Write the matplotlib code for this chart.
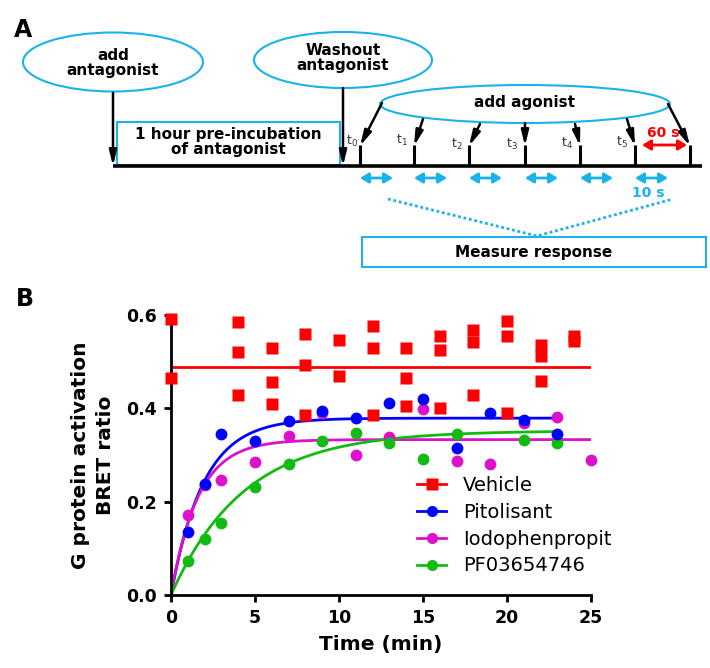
import numpy as np
import matplotlib
matplotlib.use("Agg")
import matplotlib.pyplot as plt
from matplotlib.patches import Ellipse, Rectangle
from matplotlib.lines import Line2D

# ---- panel B data ----
veh_t = [0, 0, 4, 4, 4, 6, 6, 6, 8, 8, 8, 10, 10, 12, 12, 12, 14, 14, 14,
         16, 16, 16, 18, 18, 18, 20, 20, 20, 22, 22, 22, 24, 24]
veh_y = [0.591, 0.466, 0.586, 0.520, 0.429, 0.530, 0.457, 0.409, 0.559, 0.493, 0.385,
         0.547, 0.470, 0.577, 0.530, 0.385, 0.530, 0.464, 0.405, 0.556, 0.525, 0.400,
         0.568, 0.542, 0.429, 0.588, 0.556, 0.389, 0.535, 0.512, 0.458, 0.556, 0.545]

pit_t = [1, 2, 3, 5, 7, 9, 11, 13, 15, 17, 19, 21, 23]
pit_y = [0.134, 0.237, 0.346, 0.331, 0.373, 0.394, 0.379, 0.412, 0.421, 0.314, 0.389, 0.375, 0.344]

iod_t = [1, 2, 3, 5, 7, 9, 11, 13, 15, 17, 19, 21, 23, 25]
iod_y = [0.172, 0.235, 0.247, 0.285, 0.341, 0.391, 0.300, 0.338, 0.399, 0.288, 0.280, 0.368, 0.381, 0.290]

pf_t = [1, 2, 3, 5, 7, 9, 11, 13, 15, 17, 21, 23]
pf_y = [0.072, 0.120, 0.154, 0.232, 0.281, 0.329, 0.348, 0.326, 0.292, 0.346, 0.333, 0.325]

# fitted curves (one-phase association), parameters
veh_mean = 0.488
pit_fit = (0.379, 0.52, 23)   # plateau, k, last time
iod_fit = (0.333, 0.62, 25)
pf_fit = (0.352, 0.23, 23)

labels = ["Vehicle", "Pitolisant", "Iodophenpropit", "PF03654746"]
colors = ["#ff0000", "#0000ff", "#dd11cc", "#11bb11"]
markers = ["s", "o", "o", "o"]

CYAN = "#1ab2ea"

fig = plt.figure(figsize=(7.1, 6.68), dpi=100)

# ---- panel A: schematic, drawn in pixel coordinates ----
axA = fig.add_axes([0, 0, 1, 1])
axA.set_xlim(0, 710)
axA.set_ylim(668, 0)
axA.axis("off")

bold = dict(fontweight="bold", fontsize=11, ha="center", va="center", color="black")

axA.text(23, 30, "A", fontsize=17, fontweight="bold", ha="center", va="center")
axA.text(25, 299, "B", fontsize=17, fontweight="bold", ha="center", va="center")

# ellipses with text
axA.add_patch(Ellipse((113, 62), 180, 59, fill=False, ec=CYAN, lw=1.5))
axA.text(113, 63, "add\nantagonist", linespacing=0.95, **bold)
axA.add_patch(Ellipse((343, 60), 178, 56, fill=False, ec=CYAN, lw=1.5))
axA.text(343, 58, "Washout\nantagonist", linespacing=0.95, **bold)
axA.add_patch(Ellipse((525, 104), 290, 38, fill=False, ec=CYAN, lw=1.5))
axA.text(525, 102, "add agonist", **bold)

# pre-incubation box
axA.add_patch(Rectangle((117, 122), 223, 43, fill=False, ec=CYAN, lw=1.5))
axA.text(228, 142, "1 hour pre-incubation\nof antagonist", linespacing=0.95, **bold)

# measure box
axA.add_patch(Rectangle((362, 237), 344, 30, fill=False, ec=CYAN, lw=1.5))
axA.text(534, 252, "Measure response", **bold)

# timeline
axA.plot([113, 702], [166, 166], color="black", lw=2.6, solid_capstyle="butt")

arrow_kw = dict(arrowstyle="-|>,head_length=0.9,head_width=0.22", color="black", lw=1.8,
                shrinkA=0, shrinkB=0)
axA.annotate("", xy=(113, 166), xytext=(113, 93), arrowprops=arrow_kw)
axA.annotate("", xy=(343, 166), xytext=(343, 88), arrowprops=arrow_kw)

tick_x = [360, 414, 469, 525, 580, 635, 690]
arrow_from = [(382, 103), (423, 119), (480, 124), (525, 123), (575, 124), (627, 119), (668, 104)]
for x, (sx, sy) in zip(tick_x, arrow_from):
    axA.plot([x, x], [145, 166], color="black", lw=2.2, solid_capstyle="butt")
    axA.annotate("", xy=(x, 146), xytext=(sx, sy), arrowprops=arrow_kw)

t_pos = [(352, 141), (402, 140), (457, 144), (512, 144), (567, 143), (622, 142)]
for i, (x, y) in enumerate(t_pos):
    axA.text(x, y, r"$\mathrm{t}_{%d}$" % i, fontsize=9, ha="center", va="center", color="#333333")

# 60 s arrow
axA.annotate("", xy=(687, 145), xytext=(642, 145),
             arrowprops=dict(arrowstyle="<|-|>,head_length=0.5,head_width=0.3", color="red", lw=2,
                             shrinkA=0, shrinkB=0))
axA.text(663, 133, "60 s", color="red", fontsize=10, fontweight="bold", ha="center", va="center")

# 10 s measurement windows
for x in tick_x[:-1]:
    axA.annotate("", xy=(x + 33, 178), xytext=(x, 178),
                 arrowprops=dict(arrowstyle="<|-|>,head_length=0.5,head_width=0.3", color=CYAN, lw=2,
                                 shrinkA=0, shrinkB=0))
axA.text(648, 193, "10 s", color=CYAN, fontsize=10, fontweight="bold", ha="center", va="center")

axA.plot([388, 537, 673], [199, 236, 199], color=CYAN, lw=2, linestyle=(0, (1, 1)))

# ---- panel B ----
ax = fig.add_axes([171 / 710, 1 - 595 / 668, 420 / 710, 280 / 668])

ax.plot([0, 25], [veh_mean, veh_mean], color=colors[0], lw=2, zorder=2)
for (ymax, k, tend), c in zip([pit_fit, iod_fit, pf_fit], colors[1:]):
    tt = np.linspace(0, tend, 200)
    ax.plot(tt, ymax * (1 - np.exp(-k * tt)), color=c, lw=2, zorder=2)

ax.plot(iod_t, iod_y, "o", color=colors[2], ms=8.5, mec="none", clip_on=False, zorder=3)
ax.plot(pf_t, pf_y, "o", color=colors[3], ms=8.5, mec="none", clip_on=False, zorder=3)
ax.plot(pit_t, pit_y, "o", color=colors[1], ms=8.5, mec="none", clip_on=False, zorder=3)
ax.plot(veh_t, veh_y, "s", color=colors[0], ms=8.5, mec="none", clip_on=False, zorder=4)

ax.set_xlim(0, 25)
ax.set_ylim(0, 0.6)
ax.set_xticks([0, 5, 10, 15, 20, 25])
ax.set_yticks([0.0, 0.2, 0.4, 0.6])
ax.set_yticklabels(["0.0", "0.2", "0.4", "0.6"])
for s in ["top", "right"]:
    ax.spines[s].set_visible(False)
for s in ["left", "bottom"]:
    ax.spines[s].set_linewidth(2)
ax.tick_params(width=2, length=5, labelsize=12.5, pad=5)
for lab in ax.get_xticklabels() + ax.get_yticklabels():
    lab.set_fontweight("bold")
ax.set_xlabel("Time (min)", fontsize=14.5, fontweight="bold", labelpad=6)
ax.set_ylabel("G protein activation\nBRET ratio", fontsize=14.5, fontweight="bold", labelpad=8,
              linespacing=1.4)

handles = [Line2D([], [], color=c, marker=m, ms=8, lw=2, mec="none") for c, m in zip(colors, markers)]
ax.legend(handles, labels, loc="upper left", bbox_to_anchor=(417 / 710, 1 - 476 / 668),
          bbox_transform=fig.transFigure, frameon=False, fontsize=14, borderpad=0,
          handlelength=1.5, handletextpad=0.85, labelspacing=0.4, borderaxespad=0)

fig.savefig("out.png", dpi=100)
